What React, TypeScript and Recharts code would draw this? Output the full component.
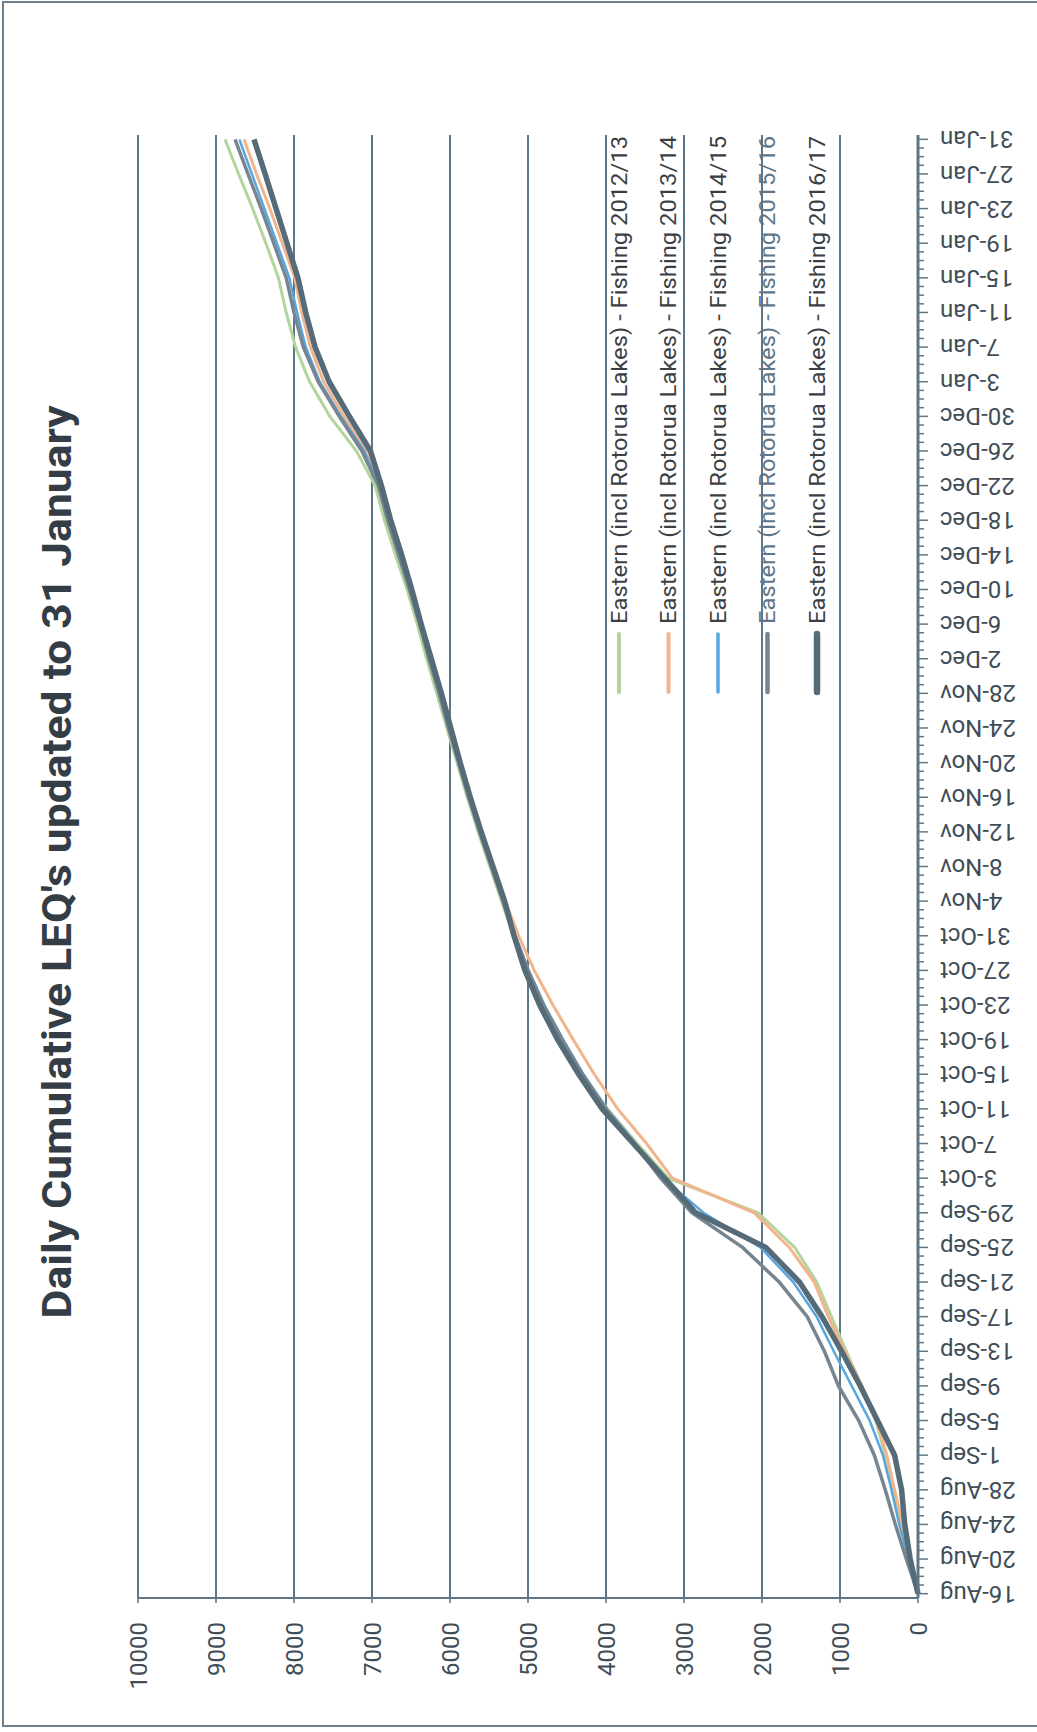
import React from "react";
import { LineChart, Line, XAxis, YAxis, CartesianGrid, Legend } from "recharts";

// tick labels along the date axis, one every 4 days (16-Aug = day 0)
const dateLabels = [
  "16-Aug", "20-Aug", "24-Aug", "28-Aug", "1-Sep", "5-Sep", "9-Sep", "13-Sep",
  "17-Sep", "21-Sep", "25-Sep", "29-Sep", "3-Oct", "7-Oct", "11-Oct", "15-Oct",
  "19-Oct", "23-Oct", "27-Oct", "31-Oct", "4-Nov", "8-Nov", "12-Nov", "16-Nov",
  "20-Nov", "24-Nov", "28-Nov", "2-Dec", "6-Dec", "10-Dec", "14-Dec", "18-Dec",
  "22-Dec", "26-Dec", "30-Dec", "3-Jan", "7-Jan", "11-Jan", "15-Jan", "19-Jan",
  "23-Jan", "27-Jan", "31-Jan",
];

const valueTicks = [0, 1000, 2000, 3000, 4000, 5000, 6000, 7000, 8000, 9000, 10000];

// cumulative LEQs at each labelled date
const fishing2012 = [0, 110, 220, 320, 420, 540, 720, 920, 1110, 1300, 1580, 2050, 3200, 3600, 3980, 4300, 4580, 4820, 5020, 5190, 5340, 5490, 5640, 5780, 5910, 6040, 6170, 6300, 6420, 6550, 6700, 6840, 6960, 7200, 7540, 7800, 7980, 8100, 8200, 8360, 8530, 8710, 8885];
const fishing2013 = [0, 100, 200, 300, 400, 530, 720, 940, 1150, 1330, 1650, 2100, 3150, 3480, 3850, 4150, 4420, 4680, 4920, 5120, 5290, 5450, 5600, 5740, 5870, 6000, 6120, 6250, 6370, 6500, 6640, 6780, 6900, 7080, 7360, 7620, 7790, 7900, 7990, 8150, 8310, 8480, 8641];
const fishing2014 = [0, 120, 240, 340, 450, 620, 850, 1080, 1300, 1600, 2020, 2750, 3270, 3620, 3990, 4290, 4550, 4790, 4990, 5160, 5310, 5460, 5610, 5750, 5880, 6010, 6130, 6260, 6380, 6510, 6650, 6790, 6910, 7100, 7400, 7670, 7850, 7960, 8060, 8220, 8380, 8540, 8700];
const fishing2015 = [0, 150, 290, 420, 560, 760, 1020, 1200, 1420, 1780, 2250, 2900, 3300, 3640, 4000, 4300, 4560, 4800, 5000, 5170, 5320, 5470, 5620, 5760, 5890, 6020, 6140, 6270, 6390, 6520, 6660, 6800, 6920, 7130, 7420, 7690, 7880, 8000, 8100, 8260, 8420, 8590, 8756];
const fishing2016 = [0, 100, 170, 210, 300, 520, 740, 980, 1230, 1520, 1950, 2850, 3250, 3650, 4050, 4350, 4620, 4850, 5040, 5180, 5300, 5450, 5600, 5740, 5870, 5990, 6110, 6240, 6370, 6490, 6620, 6760, 6880, 7020, 7290, 7550, 7730, 7850, 7950, 8090, 8230, 8370, 8513];

const series = [
  { key: "s2012", name: "Eastern (incl Rotorua Lakes) - Fishing 2012/13", values: fishing2012, color: "#b3d49c", width: 3, text: "#3b3f44" },
  { key: "s2013", name: "Eastern (incl Rotorua Lakes) - Fishing 2013/14", values: fishing2013, color: "#f2b48c", width: 3, text: "#3b3f44" },
  { key: "s2014", name: "Eastern (incl Rotorua Lakes) - Fishing 2014/15", values: fishing2014, color: "#58a6e0", width: 2.5, text: "#3b3f44" },
  { key: "s2015", name: "Eastern (incl Rotorua Lakes) - Fishing 2015/16", values: fishing2015, color: "#76858f", width: 3.5, text: "#5f7689" },
  { key: "s2016", name: "Eastern (incl Rotorua Lakes) - Fishing 2016/17", values: fishing2016, color: "#566b78", width: 5.5, text: "#3b3f44" },
];

const data = dateLabels.map((_, i) => {
  const row: any = { day: i * 4 };
  series.forEach((s) => (row[s.key] = s.values[i]));
  return row;
});

const allDays = Array.from({ length: 169 }, (_, d) => d);

const axisColor = "#5f7686";
const labelColor = "#404d57";

const DateTick = (props: any) => {
  const { x, y, payload } = props;
  const day = payload.value;
  const major = day % 4 === 0;
  const ly = y + 22;
  return (
    <g>
      <line x1={x} y1={y} x2={x} y2={y + (major ? 10 : 6)} stroke={axisColor} strokeWidth={1.5} />
      {major && (
        <text
          x={x}
          y={ly}
          transform={`rotate(-90, ${x}, ${ly})`}
          textAnchor="end"
          dominantBaseline="central"
          fontSize={24}
          fill={labelColor}
        >
          {dateLabels[day / 4]}
        </text>
      )}
    </g>
  );
};

const renderLegend = (props: any) => {
  const items = props.payload || [];
  return (
    <svg width={570} height={250}>
      {items.map((item: any, i: number) => {
        const s = series.find((e) => e.key === item.dataKey) || series[i];
        const cy = 19 + i * 49.5;
        return (
          <g key={s.key}>
            <line x1={4} y1={cy} x2={62} y2={cy} stroke={item.color} strokeWidth={s.width + 1} strokeLinecap="round" />
            <text
              x={72}
              y={cy}
              dominantBaseline="central"
              fontSize={22}
              textLength={488}
              lengthAdjust="spacingAndGlyphs"
              fill={s.text}
            >
              {item.value}
            </text>
          </g>
        );
      })}
    </svg>
  );
};

const App = () => {
  return (
    <div>
      <style>{"body{margin:0;overflow:hidden;background:#fff}"}</style>
      <div
        style={{
          position: "absolute",
          left: 2,
          top: 1,
          width: 1060,
          height: 1726,
          border: "2px solid #6c7f8b",
          boxSizing: "border-box",
        }}
      />
      <div
        style={{
          position: "absolute",
          left: 0,
          top: 0,
          width: 1732,
          height: 1037,
          transformOrigin: "0 0",
          transform: "translate(0px, 1732px) rotate(-90deg)",
          fontFamily: "Roboto, sans-serif",
        }}
      >
        <svg width={1732} height={110} style={{ position: "absolute", left: 0, top: 0 }}>
          <text
            x={870}
            y={71}
            textAnchor="middle"
            fontSize={40}
            fontWeight={700}
            textLength={913}
            lengthAdjust="spacingAndGlyphs"
            fill="#343d45"
          >
            Daily Cumulative LEQ's updated to 31 January
          </text>
        </svg>
        <LineChart
          width={1732}
          height={1037}
          data={data}
          margin={{ top: 138, right: 135, bottom: 19, left: 34 }}
        >
          <CartesianGrid vertical={false} stroke={axisColor} strokeWidth={2} />
          <XAxis
            dataKey="day"
            type="number"
            domain={[-0.5, 168.5]}
            ticks={allDays}
            interval={0}
            allowDataOverflow
            height={100}
            tickSize={0}
            tickMargin={0}
            tickLine={false}
            tick={<DateTick />}
            axisLine={{ stroke: axisColor, strokeWidth: 3 }}
          />
          <YAxis
            type="number"
            domain={[0, 10000]}
            ticks={valueTicks}
            interval={0}
            width={100}
            tickSize={5}
            tickMargin={19}
            tickLine={{ stroke: axisColor, strokeWidth: 1.5 }}
            axisLine={{ stroke: axisColor, strokeWidth: 2 }}
            tick={{ fontSize: 24, fill: labelColor }}
          />
          <Legend
            layout="horizontal"
            verticalAlign="middle"
            align="center"
            content={renderLegend}
            wrapperStyle={{ left: 1036, top: 600, width: 570, height: 250 }}
          />
          {series.map((s) => (
            <Line
              key={s.key}
              dataKey={s.key}
              name={s.name}
              type="linear"
              stroke={s.color}
              strokeWidth={s.width}
              dot={false}
              isAnimationActive={false}
            />
          ))}
        </LineChart>
      </div>
    </div>
  );
};

export default App;
